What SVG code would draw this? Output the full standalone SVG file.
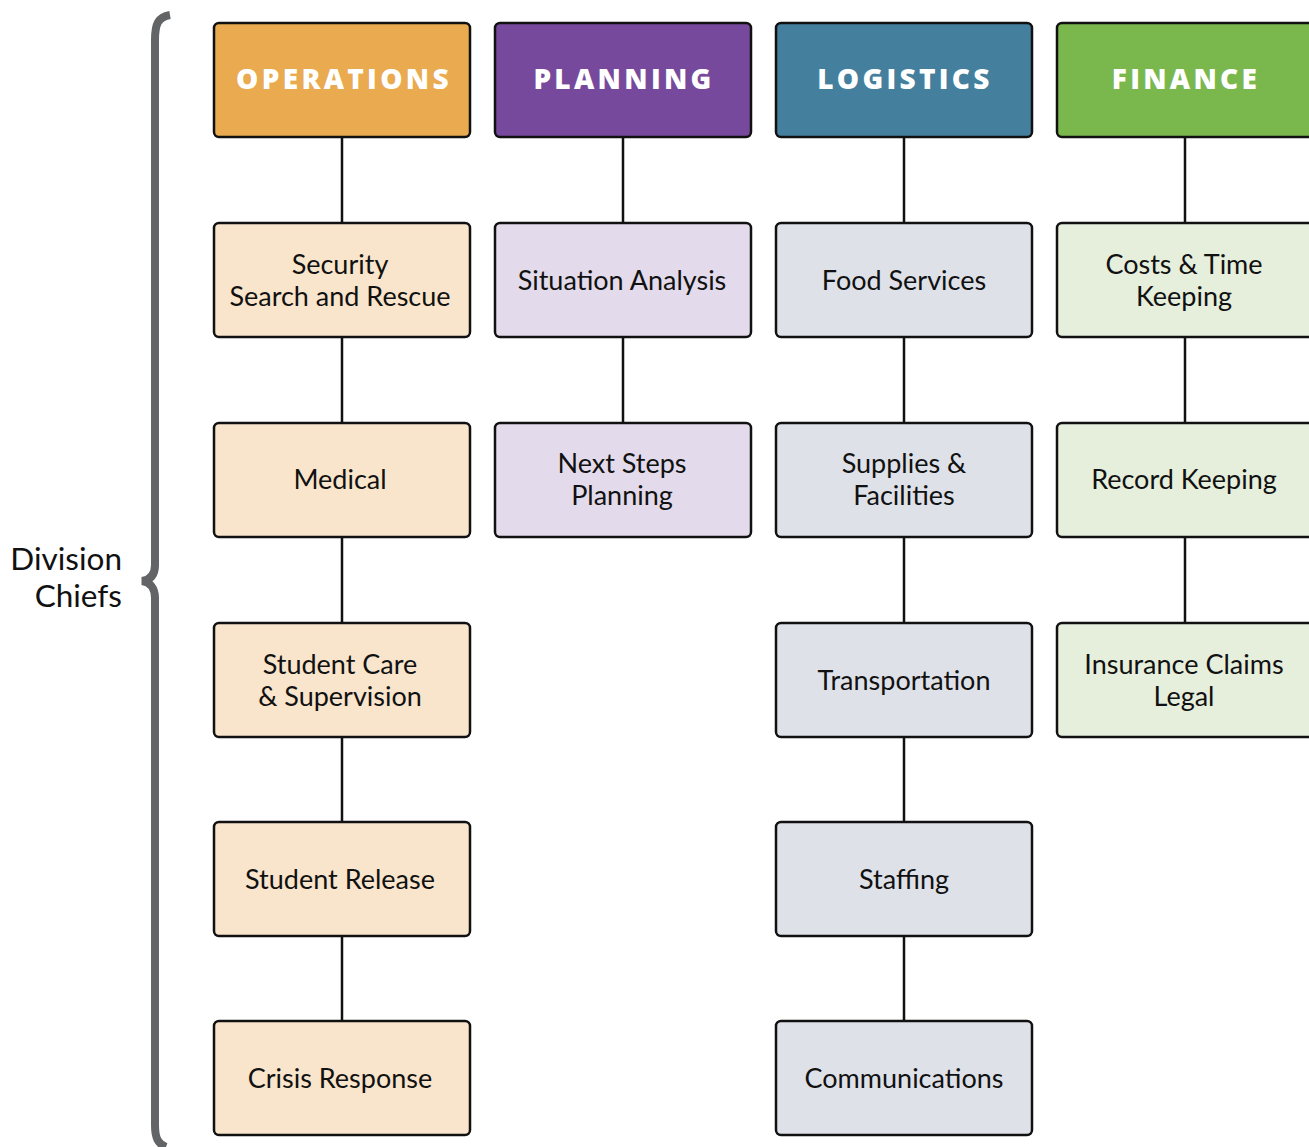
<svg xmlns="http://www.w3.org/2000/svg" width="1309" height="1147" viewBox="0 0 1309 1147">
<style>
.box{stroke:#111;stroke-width:2.5}
.hd{font-family:"Open Sans","Liberation Sans",sans-serif;font-weight:800;font-size:28px;fill:#fff;letter-spacing:3.3px;text-anchor:middle}
.t{font-family:"Lato","Liberation Sans",sans-serif;font-size:27px;fill:#111;text-anchor:middle}
.ops{fill:#E9AA50}.opsl{fill:#F9E5CC}
.pln{fill:#77499C}.plnl{fill:#E3DBEB}
.log{fill:#447F9E}.logl{fill:#DEE1E8}
.fin{fill:#7AB84E}.finl{fill:#E6EEDC}
.c{stroke:#111;stroke-width:2.5;fill:none}
</style>
<rect width="1309" height="1147" fill="#fff"/>
<g id="connectors">
<path class="c" d="M342 137V223M342 337V423M342 537V623M342 737V822M342 936V1021"/>
<path class="c" d="M623 137V223M623 337V423"/>
<path class="c" d="M904 137V223M904 337V423M904 537V623M904 737V822M904 936V1021"/>
<path class="c" d="M1185 137V223M1185 337V423M1185 537V623"/>
</g>
<g id="brace">
<path d="M170 15 C158 17 155 24 155 40 V565 C155 575 150 580 142 581 C150 582 155 588 155 598 V1125 C155 1138 158 1144 166 1147" fill="none" stroke="#636466" stroke-width="8"/>
<text class="t" x="122" y="570" style="text-anchor:end;font-size:31.5px">Division</text>
<text class="t" x="122" y="607" style="text-anchor:end;font-size:31.5px">Chiefs</text>
</g>
<g id="operations"><rect class="box ops" x="214" y="23" width="256" height="114" rx="5"/><text class="hd" x="344" y="89">OPERATIONS</text></g>
<g id="planning"><rect class="box pln" x="495" y="23" width="256" height="114" rx="5"/><text class="hd" x="624" y="89">PLANNING</text></g>
<g id="logistics"><rect class="box log" x="776" y="23" width="256" height="114" rx="5"/><text class="hd" x="905" y="89">LOGISTICS</text></g>
<g id="finance"><rect class="box fin" x="1057" y="23" width="270" height="114" rx="5"/><text class="hd" x="1186" y="89">FINANCE</text></g>

<g id="security"><rect class="box opsl" x="214" y="223" width="256" height="114" rx="5"/><text class="t" x="340" y="274">Security</text><text class="t" x="340" y="306">Search and Rescue</text></g>
<g id="medical"><rect class="box opsl" x="214" y="423" width="256" height="114" rx="5"/><text class="t" x="340" y="489">Medical</text></g>
<g id="studentcare"><rect class="box opsl" x="214" y="623" width="256" height="114" rx="5"/><text class="t" x="340" y="674">Student Care</text><text class="t" x="340" y="706">&amp; Supervision</text></g>
<g id="studentrelease"><rect class="box opsl" x="214" y="822" width="256" height="114" rx="5"/><text class="t" x="340" y="889">Student Release</text></g>
<g id="crisis"><rect class="box opsl" x="214" y="1021" width="256" height="114" rx="5"/><text class="t" x="340" y="1088">Crisis Response</text></g>

<g id="situation"><rect class="box plnl" x="495" y="223" width="256" height="114" rx="5"/><text class="t" x="622" y="290">Situation Analysis</text></g>
<g id="nextsteps"><rect class="box plnl" x="495" y="423" width="256" height="114" rx="5"/><text class="t" x="622" y="473">Next Steps</text><text class="t" x="622" y="505">Planning</text></g>

<g id="food"><rect class="box logl" x="776" y="223" width="256" height="114" rx="5"/><text class="t" x="904" y="290">Food Services</text></g>
<g id="supplies"><rect class="box logl" x="776" y="423" width="256" height="114" rx="5"/><text class="t" x="904" y="473">Supplies &amp;</text><text class="t" x="904" y="505">Facilities</text></g>
<g id="transportation"><rect class="box logl" x="776" y="623" width="256" height="114" rx="5"/><text class="t" x="904" y="690">Transportation</text></g>
<g id="staffing"><rect class="box logl" x="776" y="822" width="256" height="114" rx="5"/><text class="t" x="904" y="889">Staffing</text></g>
<g id="communications"><rect class="box logl" x="776" y="1021" width="256" height="114" rx="5"/><text class="t" x="904" y="1088">Communications</text></g>

<g id="costs"><rect class="box finl" x="1057" y="223" width="270" height="114" rx="5"/><text class="t" x="1184" y="274">Costs &amp; Time</text><text class="t" x="1184" y="306">Keeping</text></g>
<g id="record"><rect class="box finl" x="1057" y="423" width="270" height="114" rx="5"/><text class="t" x="1184" y="489">Record Keeping</text></g>
<g id="insurance"><rect class="box finl" x="1057" y="623" width="270" height="114" rx="5"/><text class="t" x="1184" y="674">Insurance Claims</text><text class="t" x="1184" y="706">Legal</text></g>
</svg>
